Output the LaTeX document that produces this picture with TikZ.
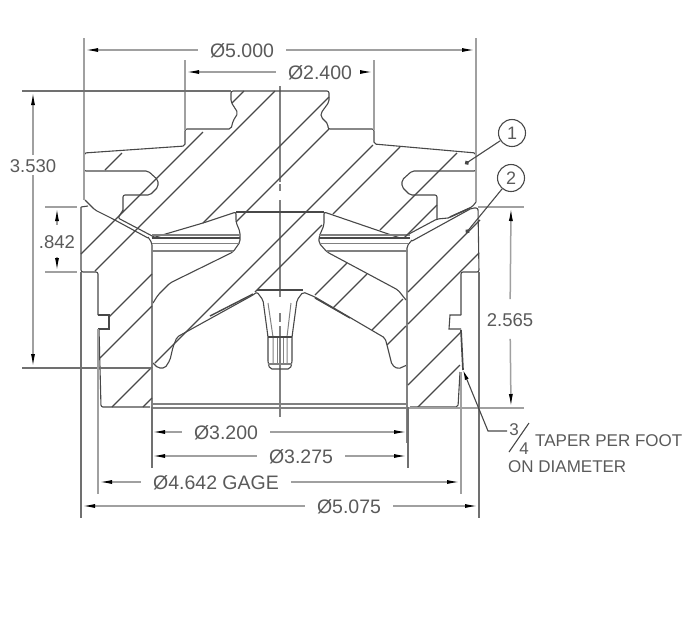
\documentclass[tikz,border=0pt]{standalone}
\usepackage{fontspec}
\setmainfont{Liberation Sans}
\usetikzlibrary{arrows.meta}
\definecolor{inkgray}{HTML}{484848}
\definecolor{dimgray}{HTML}{A0A0A0}
\definecolor{textgray}{HTML}{5A5A5A}
\definecolor{darkgray}{HTML}{707070}
\tikzset{
  part/.style={draw=inkgray, line width=1.1pt, rounded corners=2pt},
  hatchline/.style={draw=inkgray, line width=1.1pt},
  extline/.style={draw=dimgray, line width=1.5pt},
  darkext/.style={draw=darkgray, line width=1.2pt},
  centerline/.style={draw=gray, line width=1.7pt},
  band/.style={draw=gray, line width=1.2pt},
  dimline/.style={draw=dimgray, line width=1.5pt, -{Latex[length=14pt,width=4pt,black]}},
  dimtext/.style={text=textgray, font=\fontsize{19.5}{19.5}\selectfont, text height=15.5pt, text depth=0pt, inner xsep=12pt, inner ysep=4pt},
  sidetext/.style={dimtext, font=\fontsize{18.5}{18.5}\selectfont, inner xsep=0pt},
  notetext/.style={dimtext, font=\fontsize{17}{17}\selectfont, inner sep=0pt},
  leader/.style={draw=inkgray, line width=1.1pt},
  balloon/.style={circle, draw=inkgray, line width=1.1pt, minimum size=27pt, inner sep=0pt, text=textgray, font=\fontsize{18}{18}\selectfont}
}
\begin{document}
\begin{tikzpicture}[x=1pt,y=-1pt]
  \useasboundingbox (0,0) rectangle (690,622);
  % center line
  \draw[centerline] (280,86) -- (280,182);
  \draw[centerline] (280,184) -- (280,191);
  \draw[centerline] (280,200) -- (280,297);
  \draw[centerline] (280,313) -- (280,322);
  \draw[centerline] (280,326) -- (280,417);
  % piston outline
  \draw[part] (123,212) -- (123,195) -- (150,195) -- (158,187) -- (158,180) -- (148,171) -- (84,171) -- (84,153) -- (185,146) -- (185,129) -- (231,129) -- (233,121) -- (238,113) -- (231,102) -- (231,91) -- (329,91) -- (329,102) -- (321,113) -- (321,117) -- (328,124) -- (328,129) -- (374,129) -- (374,144) -- (476,153) -- (476,171) -- (412,171) -- (402,180) -- (402,187) -- (410,195) -- (437,195) -- (437,219);
  \draw[part] (123,210) -- (118,218) -- (156,238);
  \draw[part] (85,200) -- (95,210) -- (113,219) -- (148,238);
  \draw[part] (407,235) -- (437,219) -- (448,218);
  \draw[part] (448,218) -- (472,207) -- (476,202);
  \draw[part,line width=1.5pt] (450,217) -- (470,208);
  % piston crown and underside
  \draw[part] (152,238) -- (203,223) -- (236,212) -- (236,222) -- (240,232) -- (240,242) -- (233,252) -- (170,283) -- (158,295) -- (153,303);
  \draw[part] (400,238) -- (324,212) -- (324,225) -- (319,237) -- (319,243) -- (327,252) -- (398,290) -- (406,300);
  \draw[hatchline] (236,212) -- (324,212);
  \draw[part] (407,365) -- (398,369) -- (392,365) -- (387,345) -- (385,338) -- (315,297) -- (303,292) -- (297,300) -- (292,337) -- (292,363) -- (290,369) -- (270,369) -- (268,363) -- (268,337) -- (263,300) -- (257,292) -- (253,295) -- (177,337) -- (173,347) -- (170,360) -- (165,368) -- (158,368) -- (153,363);
  \draw[hatchline,line width=1.5pt] (257,290) -- (303,290);
  \draw[hatchline,line width=1.4pt] (210,316) -- (253,294);
  \draw[hatchline,line width=1.4pt] (315,298) -- (350,318);
  % insert
  \draw[band,line width=1pt] (268,303) -- (273,337) -- (273,363);
  \draw[band,line width=1pt] (291,303) -- (287,337) -- (287,363);
  \draw[band,line width=1pt] (277,337) -- (277,363);
  \draw[band,line width=1pt] (283,337) -- (283,363);
  \draw[hatchline] (268,337) -- (292,337);
  \draw[band,line width=1.2pt] (268,364) -- (292,364);
  % ring outline
  \draw[part] (81,207) -- (88,206);
  \draw[part] (81,207) -- (81,272) -- (98,272) -- (98,315);
  \draw[hatchline] (98,315) -- (109,315) -- (109,329) -- (98,329);
  \draw[part] (99,329) -- (101,407) -- (150,407);
  \draw[part] (412,241) -- (472,208) -- (478,208) -- (479,272) -- (461,272) -- (461,315);
  \draw[hatchline] (461,315) -- (450,315) -- (449,329) -- (461,329);
  \draw[part,line width=1.7pt] (461,330) -- (463,370);
  \draw[part] (460,372) -- (458,407) -- (410,407);
  % inner walls
  \draw[part] (148,237) -- (152,243) -- (152,407);
  \draw[part] (412,240) -- (407,246) -- (407,407);
  \draw[band,line width=2.2pt] (152,300) -- (152,443);
  \draw[band,line width=2.2pt] (407,300) -- (407,443);
  % bands
  \draw[band] (152,235) -- (240,235);
  \draw[hatchline,line width=1.5pt] (152,238) -- (240,238);
  \draw[band,line width=1pt] (152,243) -- (240,243);
  \draw[band,line width=1.6pt] (152,251) -- (233,251);
  \draw[band] (319,235) -- (410,235);
  \draw[hatchline,line width=1.5pt] (319,238) -- (410,238);
  \draw[band,line width=1pt] (319,243) -- (408,243);
  \draw[band,line width=1.6pt] (327,251) -- (408,251);
  \draw[band,line width=2.6pt] (152,404) -- (407,404);
  \draw[band] (152,408) -- (407,408);
  % piston hatch
  \draw[hatchline] (105,170) -- (122,153);
  \draw[hatchline] (81,254) -- (203,132);
  \draw[hatchline] (232,103) -- (244,91);
  \draw[hatchline] (95,271) -- (275,91);
  \draw[hatchline] (203,223) -- (329,97);
  \draw[hatchline] (236,222) -- (329,129);
  \draw[hatchline] (155,363) -- (373,145);
  \draw[hatchline] (255,292) -- (322,225);
  \draw[hatchline] (333,214) -- (400,147);
  \draw[hatchline] (380,230) -- (457,153);
  \draw[hatchline] (404,238) -- (437,205);
  \draw[hatchline] (315,295) -- (347,263);
  \draw[hatchline] (333,308) -- (367,274);
  \draw[hatchline] (372,330) -- (403,299);
  \draw[hatchline] (387,345) -- (406,326);
  % ring hatch
  \draw[hatchline] (109,317) -- (152,274);
  \draw[hatchline] (100,358) -- (152,306);
  \draw[hatchline] (112,407) -- (152,367);
  \draw[hatchline] (143,407) -- (152,398);
  \draw[hatchline] (408,292) -- (480,220);
  \draw[hatchline] (408,324) -- (479,253);
  \draw[hatchline] (408,385) -- (461,332);
  \draw[hatchline] (417,408) -- (460,365);
  % extension lines
  \draw[extline] (84,38) -- (84,200);
  \draw[extline] (476,38) -- (476,202);
  \draw[extline] (185,60) -- (185,130);
  \draw[extline] (374,60) -- (374,130);
  \draw[darkext] (22,91) -- (231,91);
  \draw[darkext] (22,368) -- (152,368);
  \draw[extline] (45,207) -- (77,207);
  \draw[extline] (45,272) -- (77,272);
  \draw[extline] (478,207) -- (524,207);
  \draw[extline] (408,408) -- (524,408);
  \draw[darkext] (81,272) -- (81,518);
  \draw[darkext] (479,272) -- (479,518);
  \draw[extline] (98,329) -- (98,494);
  \draw[extline] (461,372) -- (461,494);
  \draw[darkext] (152,407) -- (152,468);
  \draw[darkext] (408,407) -- (408,468);
  % dimensions
  \coordinate (fiveL) at (84,50);
  \coordinate (fiveR) at (476,50);
  \node[dimtext] (fivedim) at (242,50) {Ø5.000};
  \draw[dimline] (fivedim) -- (fiveL);
  \draw[dimline] (fivedim) -- (fiveR);
  \coordinate (twofourL) at (185,72);
  \coordinate (twofourR) at (374,72);
  \node[dimtext] (twofourdim) at (320,72) {Ø2.400};
  \draw[dimline] (twofourdim) -- (twofourL);
  \draw[dimline] (twofourdim) -- (twofourR);
  \coordinate (heightT) at (33,91);
  \coordinate (heightB) at (33,368);
  \node[sidetext,inner ysep=2pt] (heightdim) at (33,165) {3.530};
  \draw[dimline] (heightdim) -- (heightT);
  \draw[dimline] (heightdim) -- (heightB);
  \coordinate (grooveT) at (57,207);
  \coordinate (grooveB) at (57,272);
  \node[sidetext,inner ysep=8pt] (groovedim) at (57,241) {.842};
  \draw[dimline] (groovedim) -- (grooveT);
  \draw[dimline] (groovedim) -- (grooveB);
  \coordinate (ringT) at (511,207);
  \coordinate (ringB) at (511,408);
  \node[sidetext,inner ysep=12pt] (ringdim) at (510,319) {2.565};
  \draw[dimline] (ringdim) -- (ringT);
  \draw[dimline] (ringdim) -- (ringB);
  \coordinate (boreL) at (151,432);
  \coordinate (boreR) at (408,432);
  \node[dimtext] (boredim) at (226,432) {Ø3.200};
  \draw[dimline] (boredim) -- (boreL);
  \draw[dimline] (boredim) -- (boreR);
  \coordinate (taperL) at (151,456);
  \coordinate (taperR) at (408,456);
  \node[dimtext] (taperdim) at (301,456) {Ø3.275};
  \draw[dimline] (taperdim) -- (taperL);
  \draw[dimline] (taperdim) -- (taperR);
  \coordinate (gageL) at (98,482);
  \coordinate (gageR) at (461,482);
  \node[dimtext] (gagedim) at (216,482) {Ø4.642 GAGE};
  \draw[dimline] (gagedim) -- (gageL);
  \draw[dimline] (gagedim) -- (gageR);
  \coordinate (outerL) at (81,506);
  \coordinate (outerR) at (479,506);
  \node[dimtext] (outerdim) at (349,506) {Ø5.075};
  \draw[dimline] (outerdim) -- (outerL);
  \draw[dimline] (outerdim) -- (outerR);
  % balloons
  \coordinate (ballone) at (465,164);
  \coordinate (balltwo) at (466,233);
  \node[balloon] (one) at (512,133) {1};
  \node[balloon] (two) at (511,178) {2};
  \draw[leader,-{Circle[length=4.5pt]}] (one) -- (ballone);
  \draw[leader,-{Circle[length=4.5pt]}] (two) -- (balltwo);
  % taper note
  \coordinate (notetip) at (463,370);
  \coordinate (notebend) at (488,431);
  \coordinate (noteend) at (507,431);
  \coordinate (slashT) at (529,423);
  \coordinate (slashB) at (509,452);
  \draw[leader,-{Latex[length=10pt,width=4pt,black]}] (noteend) -- (notebend) -- (notetip);
  \draw[leader] (slashT) -- (slashB);
  \node[notetext] (notethree) at (514,428) {3};
  \node[notetext] (notefour) at (524,447) {4};
  \node[notetext,anchor=west] (noteone) at (535,439) {TAPER PER FOOT};
  \node[notetext,anchor=west] (notetwo) at (508,465) {ON DIAMETER};
\end{tikzpicture}
\end{document}
